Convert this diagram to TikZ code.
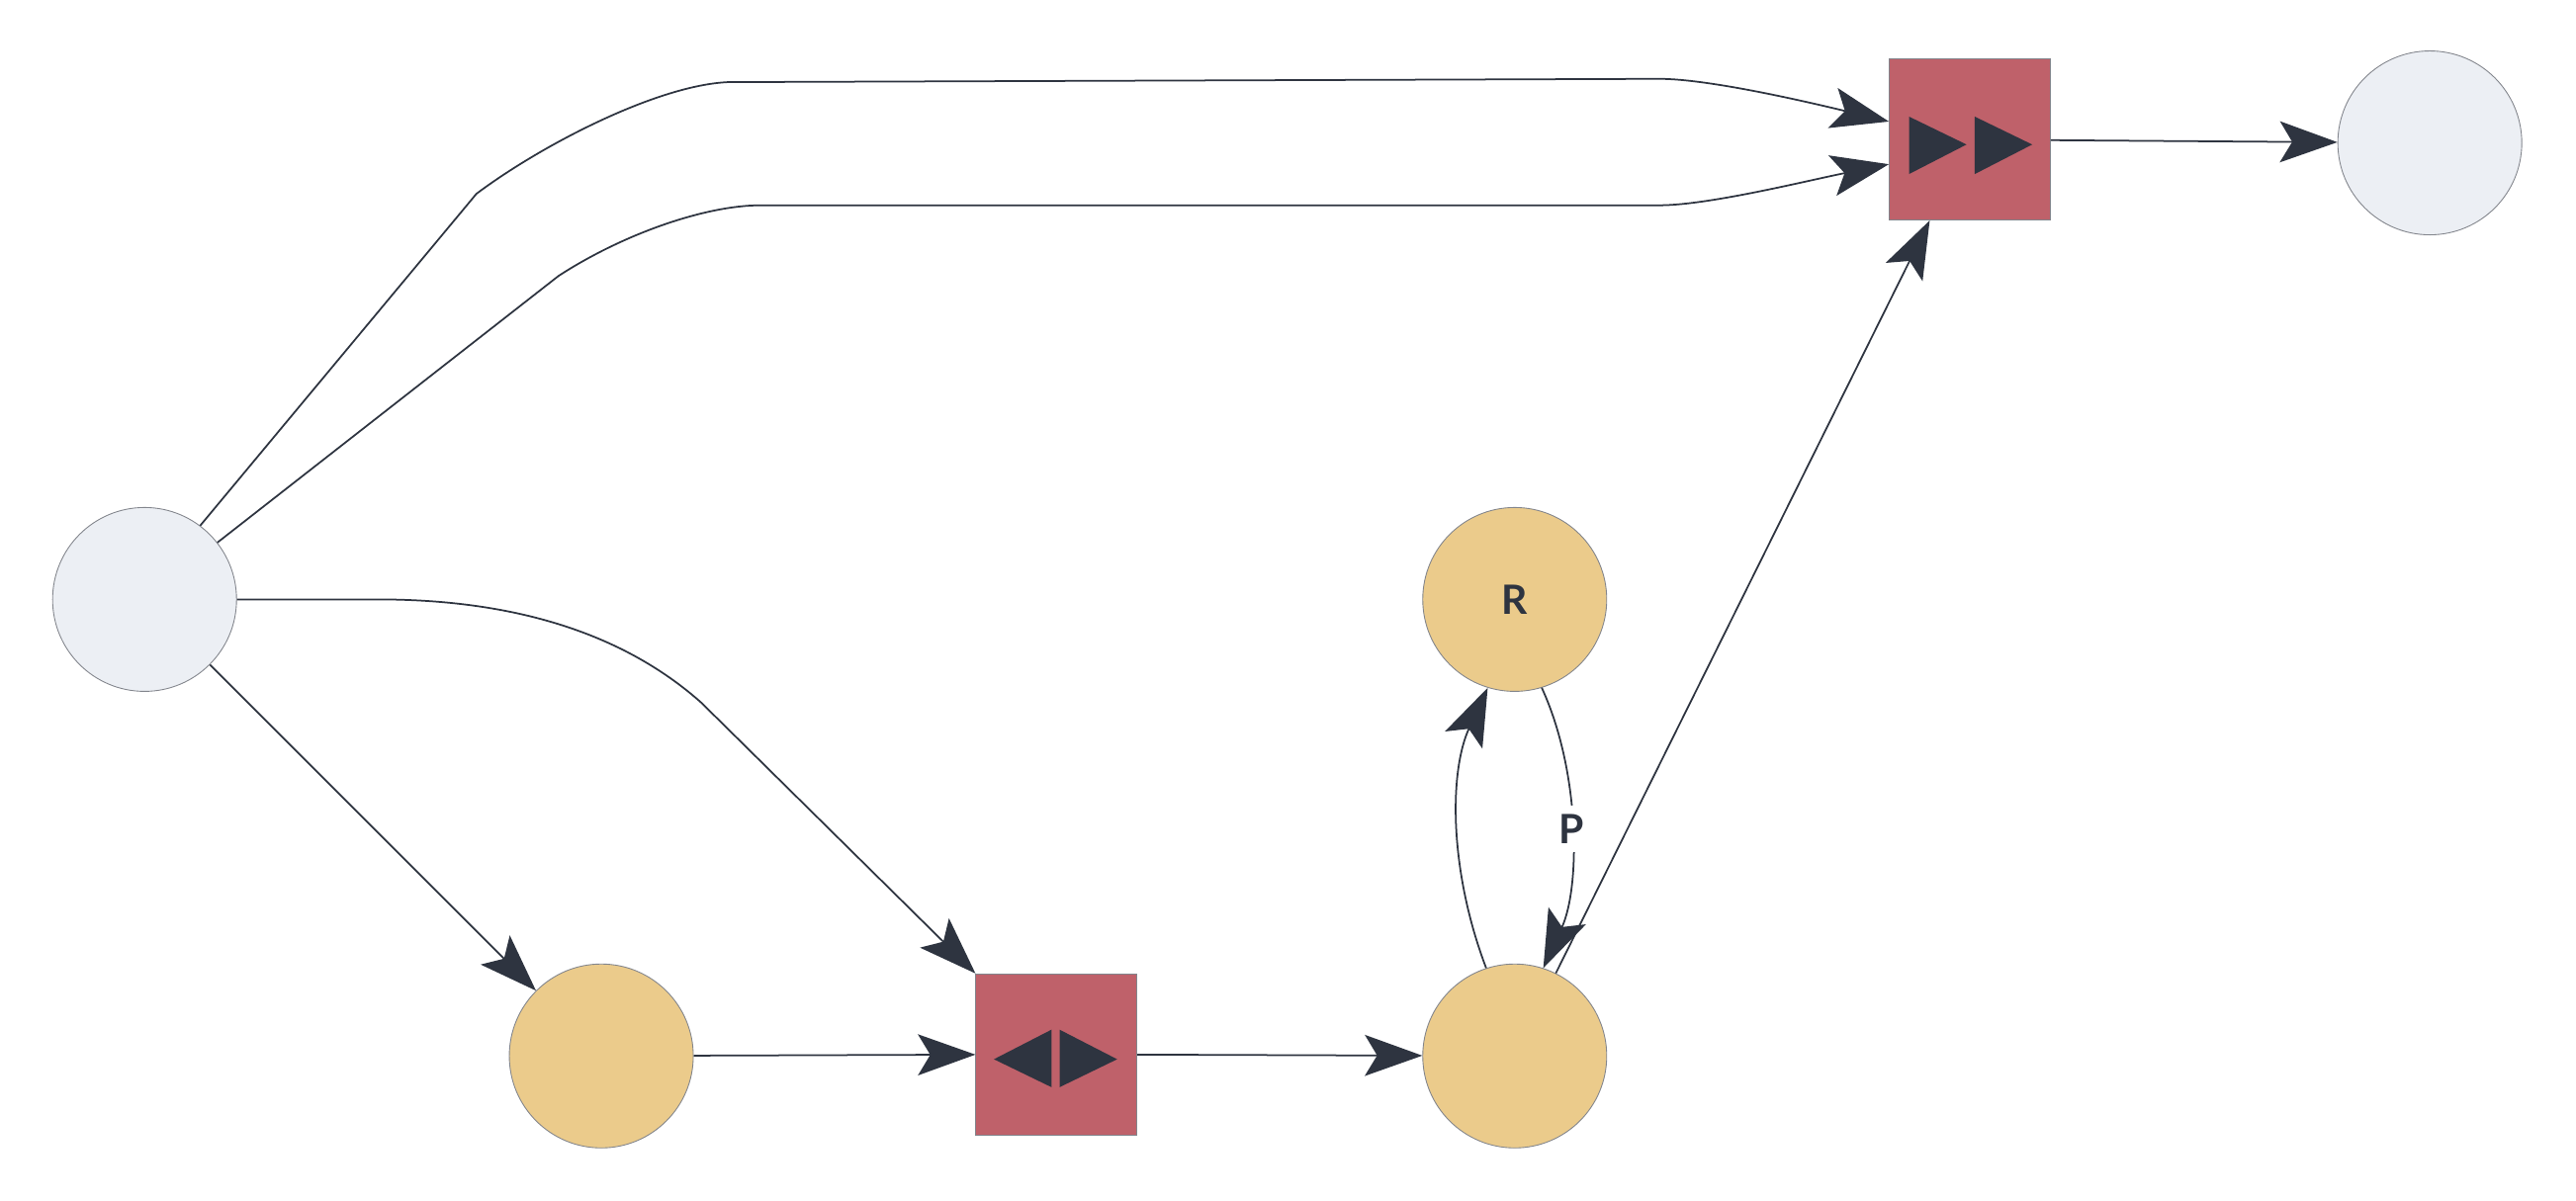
\documentclass[tikz,border=0pt]{standalone}
\usepackage{fontspec}
\setmainfont{Lato}
\usetikzlibrary{arrows.meta}
\definecolor{gfill}{HTML}{ECEFF4}
\definecolor{yfill}{HTML}{EBCB8B}
\definecolor{rfill}{HTML}{BF616A}
\definecolor{dk}{HTML}{2E3440}
\begin{document}
\begin{tikzpicture}[x=0.02cm,y=-0.02cm,
  circ/.style={circle,draw=dk!60,line width=0.3pt,minimum size=2.24cm,inner sep=0pt},
  gc/.style={circ,fill=gfill},
  yc/.style={circ,fill=yfill,font=\bfseries\fontsize{14}{14}\selectfont,text=dk},
  sq/.style={rectangle,draw=dk!60,line width=0.3pt,fill=rfill,minimum size=1.96cm,inner sep=0pt},
  edge/.style={draw=dk,line width=0.6pt,-{Stealth[length=0.7cm,width=0.5cm,inset=0.15cm]}},
  ic/.style={fill=dk}]
\useasboundingbox[fill=white] (0,0) rectangle (1568,731);
\node[gc] (A) at (88,365) {};
\node[yc] (B) at (366,643) {};
\node[sq] (S1) at (643,642) {};
\node[yc] (C) at (922,643) {};
\node[yc] (R) at (922,365) {R};
\node[sq] (S2) at (1199,85) {};
\node[gc] (D) at (1479,87) {};
% icons
\fill[ic] (605,645) -- (640,627) -- (640,662) -- cycle;
\fill[ic] (645,627) -- (645,662) -- (680,645) -- cycle;
\fill[ic] (1162,71) -- (1162,106) -- (1197,88) -- cycle;
\fill[ic] (1202,71) -- (1202,106) -- (1237,88) -- cycle;
% edges
\path[edge] (A) -- (B);
\path[edge] (A.east) -- (230,365) .. controls (330,365) and (390,395) .. (427,428) -- (S1.north west);
\path[edge] (A.53) -- (290,118) .. controls (330,88) and (400,52) .. (443,50) -- (1010,48) .. controls (1040,48) and (1100,62) .. ([yshift=0.22cm]S2.west);
\path[edge] (A.38) -- (340,168) .. controls (380,142) and (430,125) .. (463,125) -- (1010,125) .. controls (1040,125) and (1100,110) .. ([yshift=-0.3cm]S2.west);
\path[edge] (B) -- (S1);
\path[edge] (S1) -- (C);
\path[edge] (C.108) .. controls (882,530) and (882,470) .. (R.253);
\path[edge] (R.287) .. controls (962,470) and (962,540) .. node[fill=white,text=dk,font=\bfseries\fontsize{14}{14}\selectfont,inner sep=3pt]{P} (C.72);
\path[edge] (C) -- (S2);
\path[edge] (S2) -- (D);
\end{tikzpicture}
\end{document}
